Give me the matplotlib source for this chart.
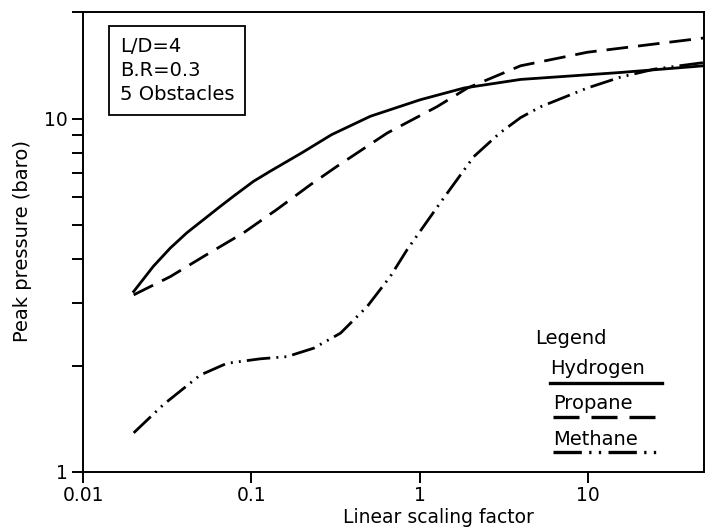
import matplotlib
matplotlib.use("Agg")
import matplotlib.pyplot as plt
from matplotlib.lines import Line2D
from matplotlib.ticker import LogLocator, NullLocator, FixedLocator, FixedFormatter, NullFormatter

# ---- data ----
h_x = [0.02, 0.0262, 0.033, 0.0414, 0.0654, 0.0785, 0.103, 0.13, 0.2, 0.3, 0.511, 1.01, 1.84,
       3.99, 8.0, 15.7, 49]
h_y = [3.24, 3.82, 4.3, 4.75, 5.64, 6.03, 6.64, 7.1, 8.0, 9.0, 10.15, 11.3, 12.2,
       12.9, 13.2, 13.5, 14.1]

p_x = [0.02, 0.033, 0.052, 0.09, 0.142, 0.225, 0.324, 0.643, 1.27, 1.93, 3.99, 9.95, 49]
p_y = [3.17, 3.57, 4.07, 4.75, 5.53, 6.5, 7.33, 9.1, 10.8, 12.2, 14.1, 15.4, 16.9]

m_x = [0.02, 0.03, 0.0497, 0.0717, 0.113, 0.163, 0.235, 0.339, 0.489, 0.672, 0.845, 1.33,
       2.1, 3.0, 3.99, 5.25, 9.95, 15.7, 25, 49]
m_y = [1.29, 1.55, 1.88, 2.03, 2.09, 2.12, 2.24, 2.47, 2.94, 3.58, 4.26, 5.78,
       7.8, 9.1, 10.06, 10.8, 12.2, 13.1, 13.8, 14.4]

x_ticks = [0.01, 0.1, 1, 10]
x_tick_labels = ["0.01", "0.1", "1", "10"]
y_ticks = [1, 10]
y_tick_labels = ["1", "10"]
series_names = ["Hydrogen", "Propane", "Methane"]
info_lines = ["L/D=4", "B.R=0.3", "5 Obstacles"]

plt.rcParams['font.family'] = ['DejaVu Sans']
FS = 14

fig = plt.figure(figsize=(7.06, 5.27), dpi=100)
ax = fig.add_axes([0.1176, 0.1044, 0.8794, 0.8726])

lw = 2.0
styles = {
    "Hydrogen": "-",
    "Propane": (0, (7.8, 3.6)),
    "Methane": (0, (8.5, 2.2, 0.7, 2.2, 0.7, 2.2)),
}
ax.plot(h_x, h_y, color="black", lw=lw, linestyle=styles["Hydrogen"], solid_joinstyle="round")
ax.plot(p_x, p_y, color="black", lw=lw, linestyle=styles["Propane"])
ax.plot(m_x, m_y, color="black", lw=lw, linestyle=styles["Methane"])

ax.set_xscale("log")
ax.set_yscale("log")
ax.set_xlim(0.01, 49)
ax.set_ylim(1, 20)

ax.xaxis.set_major_locator(FixedLocator(x_ticks))
ax.xaxis.set_major_formatter(FixedFormatter(x_tick_labels))
ax.xaxis.set_minor_locator(NullLocator())
ax.yaxis.set_major_locator(FixedLocator(y_ticks))
ax.yaxis.set_major_formatter(FixedFormatter(y_tick_labels))
ax.yaxis.set_minor_locator(LogLocator(base=10, subs=range(2, 10)))
ax.yaxis.set_minor_formatter(NullFormatter())

ax.tick_params(axis="both", which="major", direction="out", length=8, width=1.4,
               labelsize=13.5, pad=3)
ax.tick_params(axis="x", which="major", pad=2)
ax.tick_params(axis="y", which="minor", direction="out", length=8, width=1.4)
for s in ax.spines.values():
    s.set_linewidth(1.4)

ax.set_xlabel("Linear scaling factor", fontsize=13.5)
ax.xaxis.set_label_coords(0.573, -0.079)
ax.set_ylabel("Peak pressure (baro)", fontsize=FS)
ax.yaxis.set_label_coords(-0.082, 0.502)

ax.text(0.0596, 0.946, "\n".join(info_lines), transform=ax.transAxes, fontsize=FS,
        va="top", ha="left", linespacing=1.33,
        bbox=dict(boxstyle="square,pad=0.55", facecolor="white", edgecolor="black", linewidth=1.3))

# legend block
ax.text(0.728, 0.291, "Legend", transform=ax.transAxes, fontsize=FS, va="center", ha="left")
leg_text_y = [0.226, 0.150, 0.070]
leg_line_y = [0.193, 0.120, 0.043]
leg_x0 = [0.752, 0.757, 0.757]
leg_x1 = [0.932, 0.921, 0.924]
for name, ty, ly, x0, x1 in zip(series_names, leg_text_y, leg_line_y, leg_x0, leg_x1):
    ax.text(x0, ty, name, transform=ax.transAxes, fontsize=FS, va="center", ha="left")
    ax.add_line(Line2D([x0, x1], [ly, ly], transform=ax.transAxes, color="black",
                       lw=2.4, linestyle=styles[name]))

fig.savefig("out.png", dpi=100)
